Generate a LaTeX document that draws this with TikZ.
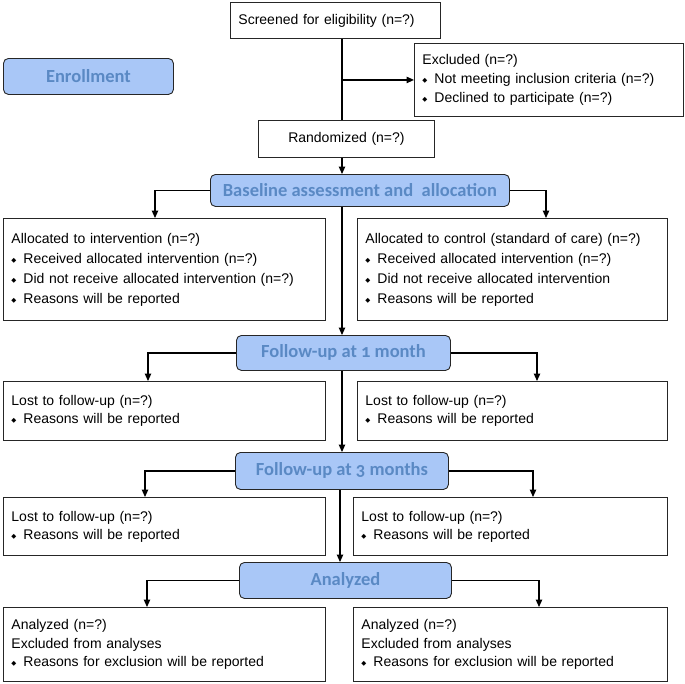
\documentclass[tikz,border=0pt]{standalone}
\usepackage{fontspec}
\setmainfont{Liberation Sans}
\newfontfamily\hdrfont{Carlito}[Numbers=OldStyle]
\newfontfamily\symfont{DejaVu Sans}
\usetikzlibrary{arrows.meta}
\definecolor{hdrfill}{HTML}{A9C7F7}
\definecolor{hdrtext}{HTML}{5A89C4}
\newcommand\bul{\makebox[12pt][l]{\raisebox{1pt}{\symfont\fontsize{6.5}{6.5}\selectfont ◆}}}
\tikzset{
 tbox/.style={draw=black!85, line width=0.9pt, fill=white, anchor=north west, inner xsep=8pt, inner ysep=0pt, align=left, font=\fontsize{14}{20}\selectfont},
 hbox/.style={draw=black!85, line width=0.9pt, fill=hdrfill, rounded corners=5pt, text=hdrtext, font=\hdrfont\bfseries\fontsize{18.5}{20}\selectfont, anchor=north west, inner sep=0pt},
 conn/.style={line width=1.1pt, black},
 arr/.style={conn, -{Triangle[length=7.5pt,width=6.5pt]}},
}
\begin{document}
\begin{tikzpicture}[x=1pt,y=-1pt]
\useasboundingbox (0,0) rectangle (685,683);
% enrollment stage
\node[tbox, text width=194pt, minimum height=36pt] (scr) at (230,2) {Screened for eligibility (n=?)};
\node[tbox, text width=253pt, minimum height=73pt, font=\fontsize{14}{19}\selectfont] (excl) at (414,43)
 {Excluded (n=?)\\ \bul Not meeting inclusion criteria (n=?)\\ \bul Declined to participate (n=?)};
\node[hbox, minimum width=170pt, minimum height=36pt] (enr) at (3,58) {Enrollment};
\node[tbox, text width=160pt, minimum height=37pt, align=center] (rand) at (258,120) {Randomized (n=?)};
% allocation
\node[hbox, minimum width=299pt, minimum height=32pt] (base) at (210,174) {Baseline assessment and~ allocation};
\node[tbox, text width=306pt, minimum height=102pt] (allocL) at (3,218)
 {Allocated to intervention (n=?)\\ \bul Received allocated intervention (n=?)\\ \bul Did not receive allocated intervention (n=?)\\ \bul Reasons will be reported};
\node[tbox, text width=294pt, minimum height=102pt] (allocR) at (357,218)
 {Allocated to control (standard of care) (n=?)\\ \bul Received allocated intervention (n=?)\\ \bul Did not receive allocated intervention\\ \bul Reasons will be reported};
% follow-up 1
\node[hbox, minimum width=214pt, minimum height=35pt] (fu1) at (236,335) {Follow-up at 1 month};
\node[tbox, text width=306pt, minimum height=59pt, font=\fontsize{14}{18}\selectfont] (lostL1) at (3,381) {Lost to follow-up (n=?)\\ \bul Reasons will be reported};
\node[tbox, text width=294pt, minimum height=59pt, font=\fontsize{14}{18}\selectfont] (lostR1) at (357,381) {Lost to follow-up (n=?)\\ \bul Reasons will be reported};
% follow-up 3
\node[hbox, minimum width=213pt, minimum height=37pt] (fu3) at (235,452) {Follow-up at 3 months};
\node[tbox, text width=306pt, minimum height=58pt, font=\fontsize{14}{18}\selectfont] (lostL2) at (3,497) {Lost to follow-up (n=?)\\ \bul Reasons will be reported};
\node[tbox, text width=298pt, minimum height=58pt, font=\fontsize{14}{18}\selectfont] (lostR2) at (353,497) {Lost to follow-up (n=?)\\ \bul Reasons will be reported};
% analysis
\node[hbox, minimum width=212pt, minimum height=36pt] (ana) at (239,562) {Analyzed};
\node[tbox, text width=306pt, minimum height=74pt, font=\fontsize{14}{18.5}\selectfont] (anaL) at (3,607) {Analyzed (n=?)\\ Excluded from analyses\\ \bul Reasons for exclusion will be reported};
\node[tbox, text width=298pt, minimum height=74pt, font=\fontsize{14}{18.5}\selectfont] (anaR) at (353,607) {Analyzed (n=?)\\ Excluded from analyses\\ \bul Reasons for exclusion will be reported};
% connectors
\coordinate (cx) at (342,0);
\coordinate (cy) at (340,0);
\draw[conn] (scr.south -| cx) -- (rand.north -| cx);
\draw[arr] (cx |- excl.west) -- (excl.west);
\draw[arr] (rand.south -| cx) -- (base.north -| cx);
\coordinate (b1l) at (155,0); \coordinate (b1r) at (546,0);
\draw[arr] (base.west) -- (base.west -| b1l) -- (allocL.north -| b1l);
\draw[arr] (base.east) -- (base.east -| b1r) -- (allocR.north -| b1r);
\draw[arr] (base.south -| cx) -- (fu1.north -| cx);
\coordinate (b2l) at (148,0); \coordinate (b2r) at (537,0);
\draw[arr] (fu1.west) -- (fu1.west -| b2l) -- (lostL1.north -| b2l);
\draw[arr] (fu1.east) -- (fu1.east -| b2r) -- (lostR1.north -| b2r);
\draw[arr] (fu1.south -| cx) -- (fu3.north -| cx);
\coordinate (b3l) at (145,0); \coordinate (b3r) at (533,0);
\draw[arr] (fu3.west) -- (fu3.west -| b3l) -- (lostL2.north -| b3l);
\draw[arr] (fu3.east) -- (fu3.east -| b3r) -- (lostR2.north -| b3r);
\draw[arr] (fu3.south -| cy) -- (ana.north -| cy);
\coordinate (b4l) at (147,0); \coordinate (b4r) at (539,0);
\draw[arr] (ana.west) -- (ana.west -| b4l) -- (anaL.north -| b4l);
\draw[arr] (ana.east) -- (ana.east -| b4r) -- (anaR.north -| b4r);
\end{tikzpicture}
\end{document}
